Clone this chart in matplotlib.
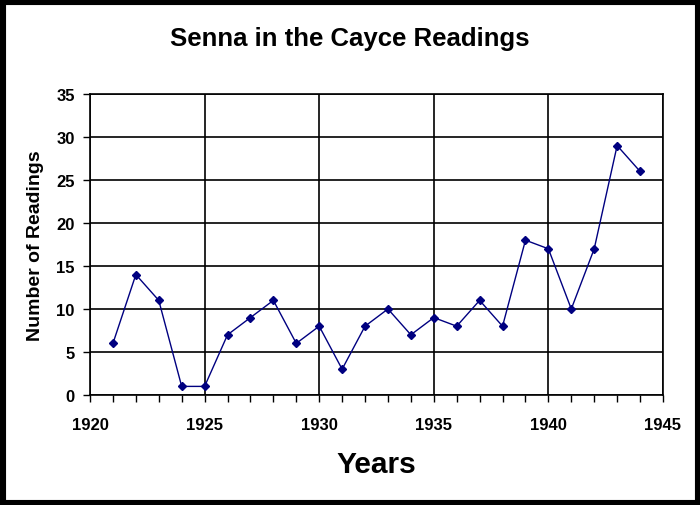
import numpy as np
import matplotlib
matplotlib.use('Agg')
import matplotlib.pyplot as plt
from matplotlib.patches import Rectangle
from matplotlib.ticker import MultipleLocator

years = [1921, 1922, 1923, 1924, 1925, 1926, 1927, 1928, 1929, 1930, 1931, 1932,
         1933, 1934, 1935, 1936, 1937, 1938, 1939, 1940, 1941, 1942, 1943, 1944]
readings = [6, 14, 11, 1, 1, 7, 9, 11, 6, 8, 3, 8,
            10, 7, 9, 8, 11, 8, 18, 17, 10, 17, 29, 26]

plt.rcParams['font.family'] = ['Liberation Sans', 'DejaVu Sans']
plt.rcParams['font.weight'] = 'bold'

fig = plt.figure(figsize=(7, 5.06), dpi=100)
ax = fig.add_axes([0.1286, 0.2174, 0.8185, 0.5949])

ax.plot(years, readings, color='#000080', lw=1, marker='D', markersize=4.5,
        markerfacecolor='#000080', markeredgecolor='#000080')

ax.set_xlim(1920, 1945)
ax.set_ylim(0, 35)
ax.xaxis.set_major_locator(MultipleLocator(5))
ax.xaxis.set_minor_locator(MultipleLocator(1))
ax.yaxis.set_major_locator(MultipleLocator(5))
ax.grid(True, which='major', color='black', lw=1.2)
ax.set_axisbelow(True)

ax.tick_params(axis='x', which='both', direction='out', length=5, width=1,
               labelsize=12, pad=11)
ax.tick_params(axis='y', which='major', direction='out', length=5, width=1,
               labelsize=12, pad=6)
for lab in ax.get_xticklabels() + ax.get_yticklabels():
    lab.set_fontweight('bold')

for side in ['top', 'right', 'left', 'bottom']:
    ax.spines[side].set_color('black')
    ax.spines[side].set_linewidth(1.2)

ax.set_xlabel('Years', fontsize=21.5, fontweight='bold', labelpad=13)
ax.set_ylabel('Number of Readings', fontsize=14, fontweight='bold', labelpad=9)
fig.text(0.5, 0.922, 'Senna in the Cayce Readings', ha='center', va='center',
         fontsize=18.5, fontweight='bold')

fig.patches.append(Rectangle((0, 0), 1, 1, transform=fig.transFigure,
                             fill=False, edgecolor='black', lw=8, zorder=10))

fig.savefig('out.png', dpi=100)
